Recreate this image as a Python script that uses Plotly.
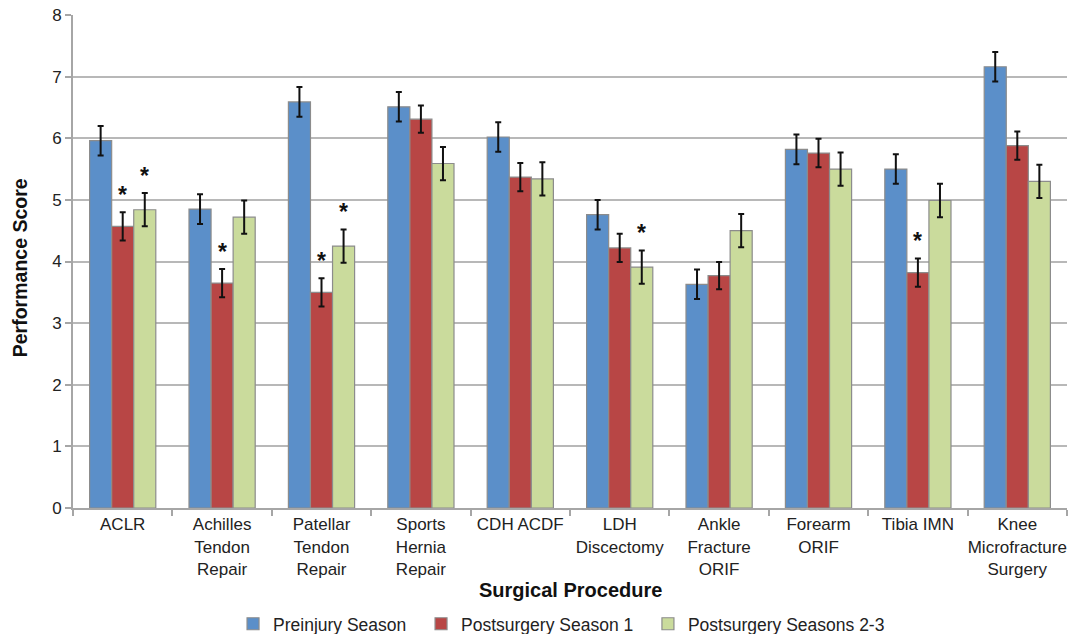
import plotly.graph_objects as go

categories = ["ACLR", "Achilles<br>Tendon<br>Repair", "Patellar<br>Tendon<br>Repair",
              "Sports<br>Hernia<br>Repair", "CDH ACDF", "LDH<br>Discectomy",
              "Ankle<br>Fracture<br>ORIF", "Forearm<br>ORIF", "Tibia IMN",
              "Knee<br>Microfracture<br>Surgery"]

preinjury = [5.96, 4.85, 6.59, 6.51, 6.02, 4.76, 3.63, 5.82, 5.50, 7.16]
preinjury_err = [0.24, 0.24, 0.24, 0.24, 0.24, 0.24, 0.24, 0.24, 0.24, 0.24]

post1 = [4.57, 3.65, 3.50, 6.31, 5.37, 4.22, 3.77, 5.76, 3.82, 5.88]
post1_err = [0.23, 0.23, 0.23, 0.22, 0.23, 0.23, 0.22, 0.23, 0.23, 0.23]

post23 = [4.84, 4.72, 4.25, 5.59, 5.34, 3.91, 4.50, 5.50, 4.99, 5.30]
post23_err = [0.27, 0.27, 0.27, 0.27, 0.27, 0.27, 0.27, 0.27, 0.27, 0.27]

series_names = ["Preinjury Season", "Postsurgery Season 1", "Postsurgery Seasons 2-3"]
series_colors = ["#5B8FC9", "#B84645", "#CADB9C"]

# significance markers: (category index, series index)
significant = [(0, 1), (0, 2), (1, 1), (2, 1), (2, 2), (5, 2), (8, 1)]

x_title = "Surgical Procedure"
y_title = "Performance Score"

BARGAP = 0.334
FONT = "Liberation Sans, Arial, sans-serif"
LEGEND_PAD = "\u00a0\u00a0"  # extra spacing between legend entries

fig = go.Figure()
for name, vals, errs, col in zip(series_names, [preinjury, post1, post23],
                                 [preinjury_err, post1_err, post23_err], series_colors):
    fig.add_trace(go.Bar(
        x=categories, y=vals, name=name + LEGEND_PAD,
        marker=dict(color=col, line=dict(color="#8C8C8C", width=1.2)),
        error_y=dict(type="data", array=errs, visible=True, color="#111111",
                     thickness=2, width=3),
    ))

all_vals = [preinjury, post1, post23]
all_errs = [preinjury_err, post1_err, post23_err]
bw = (1 - BARGAP) / 3
annotations = []
for ci, si in significant:
    annotations.append(dict(
        x=ci + (si - 1) * bw, y=all_vals[si][ci] + all_errs[si][ci],
        xref="x", yref="y", text="<b>*</b>", showarrow=False,
        yanchor="bottom", yshift=2,
        font=dict(family=FONT, size=23, color="#111111"),
    ))

# axis titles
annotations.append(dict(
    text="<b>" + x_title + "</b>", xref="paper", yref="paper", x=0.5, y=-0.166,
    xanchor="center", yanchor="middle", showarrow=False,
    font=dict(family=FONT, size=20, color="#111111"),
))
annotations.append(dict(
    text="<b>" + y_title + "</b>", xref="paper", yref="paper", x=-0.053, y=0.487,
    xanchor="center", yanchor="middle", showarrow=False, textangle=-90,
    font=dict(family=FONT, size=19.5, color="#111111"),
))

fig.update_layout(
    width=1070, height=634,
    margin=dict(l=73, r=3, t=15, b=126, autoexpand=False),
    paper_bgcolor="white", plot_bgcolor="white",
    barmode="group", bargap=BARGAP, bargroupgap=0,
    font=dict(family=FONT, size=17, color="#222222"),
    showlegend=True,
    legend=dict(orientation="h", x=0.161, xanchor="left", xref="paper",
                y=-0.235, yanchor="middle", font=dict(size=17.5), itemwidth=30,
                traceorder="normal"),
    annotations=annotations,
    xaxis=dict(
        automargin=False, tickangle=0,
        showline=True, linecolor="#A6A6A6", linewidth=2,
        ticks="outside", tickson="boundaries", ticklen=6, tickcolor="#A6A6A6",
        tickwidth=1.5, tickfont=dict(size=17),
    ),
    yaxis=dict(
        automargin=False,
        range=[0, 8], dtick=1, showgrid=True, gridcolor="#B8B8B8", gridwidth=1.5,
        showline=True, linecolor="#A6A6A6", linewidth=2,
        ticks="outside", ticklen=6, tickcolor="#A6A6A6", tickwidth=1.5,
        tickfont=dict(size=17), zeroline=False,
    ),
)

fig.write_html(
    "out.html",
    config={"displayModeBar": False},
    post_script="document.body.style.margin='0';document.body.style.overflow='hidden';",
)
